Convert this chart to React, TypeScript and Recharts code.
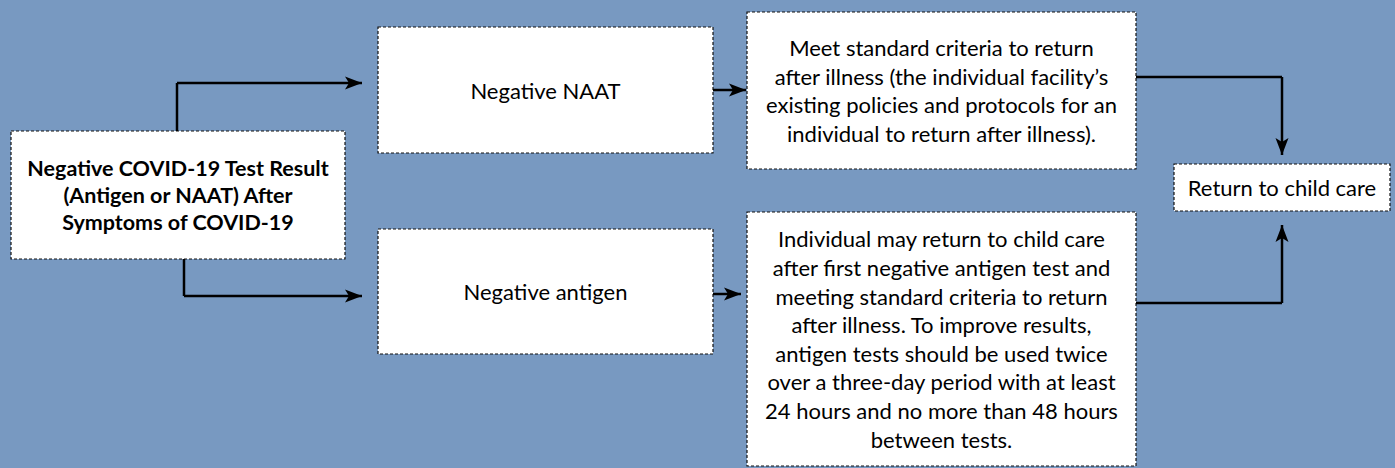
import React from 'react';
import {
  ComposedChart,
  XAxis,
  YAxis,
  ReferenceArea,
  ReferenceLine,
  ReferenceDot,
} from 'recharts';

// flowchart drawn on a 1395 x 468 canvas (y grows downward)
const nodeIds = ['start', 'naat', 'antigen', 'meet', 'individual', 'return'];

const nodeLabels: Record<string, string[]> = {
  start: [
    'Negative COVID-19 Test Result',
    '(Antigen or NAAT) After',
    'Symptoms of COVID-19',
  ],
  naat: ['Negative NAAT'],
  antigen: ['Negative antigen'],
  meet: [
    'Meet standard criteria to return',
    'after illness (the individual facility\u2019s',
    'existing policies and protocols for an',
    'individual to return after illness).',
  ],
  individual: [
    'Individual may return to child care',
    'after first negative antigen test and',
    'meeting standard criteria to return',
    'after illness. To improve results,',
    'antigen tests should be used twice',
    'over a three-day period with at least',
    '24 hours and no more than 48 hours',
    'between tests.',
  ],
  return: ['Return to child care'],
};

// box extents [x1, x2, y1, y2]
const nodeBoxes: Record<string, number[]> = {
  start: [11, 345, 131, 259],
  naat: [378, 713, 27, 153],
  antigen: [378, 713, 229, 354],
  meet: [747, 1136, 12, 169],
  individual: [747, 1136, 212, 466],
  return: [1174, 1390, 164, 211],
};

// connector polylines, last point is the arrow tip
const connectorPaths: number[][][] = [
  [[177, 131], [177, 83], [362, 83]],
  [[184, 259], [184, 296], [362, 296]],
  [[713, 90], [746, 90]],
  [[713, 294], [741, 294]],
  [[1136, 77], [1282, 77], [1282, 155]],
  [[1136, 303], [1282, 303], [1282, 225]],
];

const FONT = 'Lato, "Open Sans", sans-serif';
const BG = '#7899c1';

const Arrowhead = ({ cx, cy, dx, dy }: any) => {
  if (cx == null || cy == null) return <g />;
  const len = 17;
  const half = 6.5;
  const bx = cx - dx * len;
  const by = cy - dy * len;
  const px = -dy;
  const py = dx;
  const nx = cx - dx * (len - 4);
  const ny = cy - dy * (len - 4);
  const d = `M${cx},${cy} L${bx + px * half},${by + py * half} L${nx},${ny} L${bx - px * half},${by - py * half} Z`;
  return <path d={d} fill='#000' stroke='none' />;
};

const NodeBox = (props: any) => {
  const { x, y, width, height, id } = props;
  const lines = nodeLabels[id];
  const bold = id === 'start';
  const gap = bold ? 27 : 28.6;
  const cx = x + width / 2;
  const cy = y + height / 2;
  const startY = cy - ((lines.length - 1) * gap) / 2;
  return (
    <g>
      <rect
        x={x}
        y={y}
        width={width}
        height={height}
        fill='#fff'
        stroke='#111'
        strokeWidth={1.2}
        strokeDasharray='3 2'
      />
      {lines.map((t, i) => (
        <text
          key={i}
          x={cx}
          y={startY + i * gap}
          textAnchor='middle'
          dominantBaseline='central'
          fontFamily={FONT}
          fontSize={bold ? 21.5 : 22}
          fontWeight={bold ? 700 : 400}
          fill='#000'
        >
          {t}
        </text>
      ))}
    </g>
  );
};

export default function App() {
  return (
    <div
      style={{
        position: 'fixed',
        top: 0,
        left: 0,
        width: 1395,
        height: 468,
        background: BG,
      }}
    >
      <ComposedChart
        width={1395}
        height={468}
        data={[]}
        margin={{ top: 0, right: 0, bottom: 0, left: 0 }}
      >
        <XAxis type='number' dataKey='x' domain={[0, 1395]} allowDataOverflow hide />
        <YAxis type='number' domain={[0, 468]} reversed allowDataOverflow hide />
        {connectorPaths.map((path, pi) =>
          path.slice(1).map((p, i) => (
            <ReferenceLine
              key={`seg-${pi}-${i}`}
              segment={[
                { x: path[i][0], y: path[i][1] },
                { x: p[0], y: p[1] },
              ]}
              stroke='#000'
              strokeWidth={2.5}
              ifOverflow='visible'
            />
          ))
        )}
        {nodeIds.map((id) => {
          const [x1, x2, y1, y2] = nodeBoxes[id];
          return (
            <ReferenceArea
              key={id}
              x1={x1}
              x2={x2}
              y1={y1}
              y2={y2}
              ifOverflow='visible'
              shape={(p: any) => <NodeBox {...p} id={id} />}
            />
          );
        })}
        {connectorPaths.map((path, pi) => {
          const tip = path[path.length - 1];
          const prev = path[path.length - 2];
          const ddx = tip[0] - prev[0];
          const ddy = tip[1] - prev[1];
          const n = Math.hypot(ddx, ddy) || 1;
          return (
            <ReferenceDot
              key={`tip-${pi}`}
              x={tip[0]}
              y={tip[1]}
              r={1}
              ifOverflow='visible'
              shape={(p: any) => <Arrowhead {...p} dx={ddx / n} dy={ddy / n} />}
            />
          );
        })}
      </ComposedChart>
    </div>
  );
}
